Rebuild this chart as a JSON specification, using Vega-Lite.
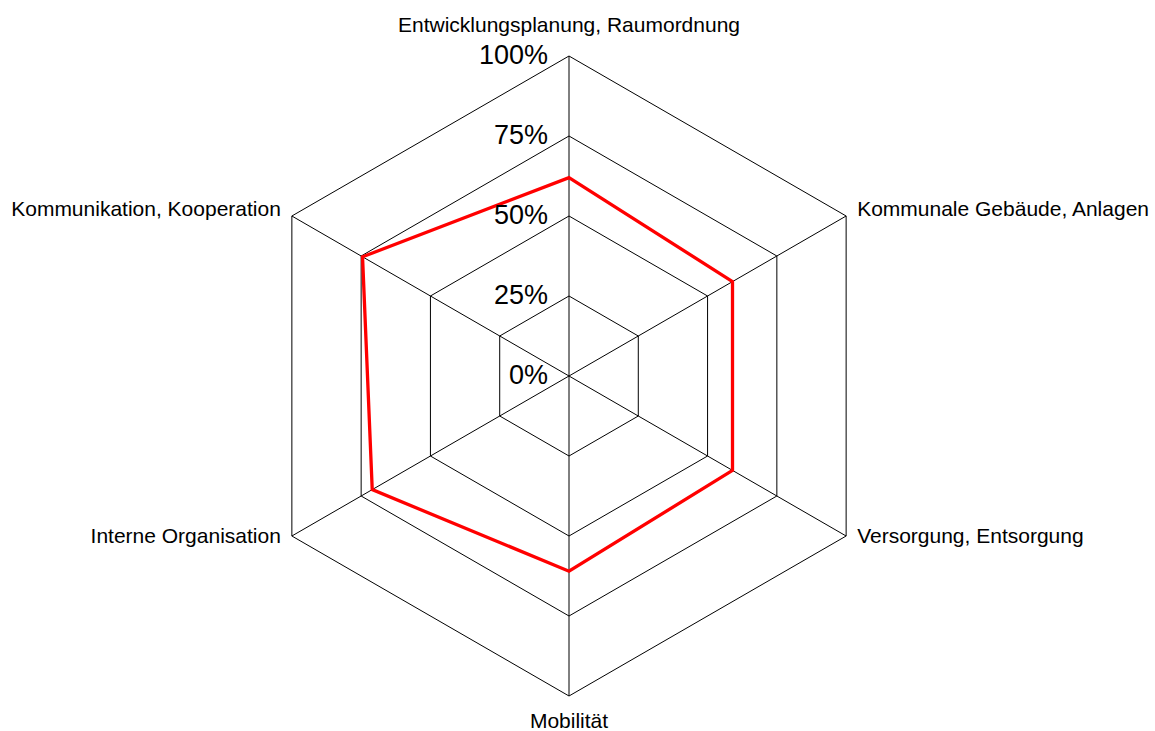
{
  "$schema": "https://vega.github.io/schema/vega-lite/v6.json",
  "width": 1155,
  "height": 731,
  "autosize": {"type": "none"},
  "padding": 0,
  "background": "white",
  "config": {"view": {"stroke": null}, "font": "Liberation Sans"},
  "datasets": {
    "axes": [
      {"i": 0, "category": "Entwicklungsplanung, Raumordnung", "value": 0.62},
      {"i": 1, "category": "Kommunale Gebäude, Anlagen", "value": 0.59},
      {"i": 2, "category": "Versorgung, Entsorgung", "value": 0.59},
      {"i": 3, "category": "Mobilität", "value": 0.61},
      {"i": 4, "category": "Interne Organisation", "value": 0.71},
      {"i": 5, "category": "Kommunikation, Kooperation", "value": 0.745}
    ],
    "grid": [
      {"level": 0.25, "k": [0, 1, 2, 3, 4, 5]},
      {"level": 0.5, "k": [0, 1, 2, 3, 4, 5]},
      {"level": 0.75, "k": [0, 1, 2, 3, 4, 5]},
      {"level": 1, "k": [0, 1, 2, 3, 4, 5]}
    ],
    "ticks": [
      {"level": 0, "label": "0%"},
      {"level": 0.25, "label": "25%"},
      {"level": 0.5, "label": "50%"},
      {"level": 0.75, "label": "75%"},
      {"level": 1, "label": "100%"}
    ]
  },
  "layer": [
    {
      "data": {"name": "grid"},
      "transform": [
        {"flatten": ["k"]},
        {"calculate": "datum.level * sin(datum.k * PI / 3)", "as": "gx"},
        {"calculate": "datum.level * cos(datum.k * PI / 3)", "as": "gy"}
      ],
      "mark": {"type": "line", "interpolate": "linear-closed", "color": "black", "strokeWidth": 1},
      "encoding": {
        "x": {"field": "gx", "type": "quantitative", "scale": {"domain": [-1.778125, 1.83125], "nice": false, "zero": false}, "axis": null},
        "y": {"field": "gy", "type": "quantitative", "scale": {"domain": [-1.109375, 1.175], "nice": false, "zero": false}, "axis": null},
        "detail": {"field": "level", "type": "nominal"},
        "order": {"field": "k", "type": "quantitative"}
      }
    },
    {
      "data": {"name": "axes"},
      "transform": [
        {"calculate": "0", "as": "cx"},
        {"calculate": "sin(datum.i * PI / 3)", "as": "ex"},
        {"calculate": "cos(datum.i * PI / 3)", "as": "ey"}
      ],
      "mark": {"type": "rule", "color": "black", "strokeWidth": 1},
      "encoding": {
        "x": {"field": "cx", "type": "quantitative"},
        "y": {"field": "cx", "type": "quantitative"},
        "x2": {"field": "ex"},
        "y2": {"field": "ey"}
      }
    },
    {
      "data": {"name": "axes"},
      "transform": [
        {"calculate": "datum.value * sin(datum.i * PI / 3)", "as": "px"},
        {"calculate": "datum.value * cos(datum.i * PI / 3)", "as": "py"}
      ],
      "mark": {"type": "line", "interpolate": "linear-closed", "color": "#FF0000", "strokeWidth": 3.3},
      "encoding": {
        "x": {"field": "px", "type": "quantitative"},
        "y": {"field": "py", "type": "quantitative"},
        "order": {"field": "i", "type": "quantitative"}
      }
    },
    {
      "data": {"name": "ticks"},
      "transform": [{"calculate": "0", "as": "cx"}],
      "mark": {"type": "text", "align": "right", "baseline": "middle", "dx": -21, "fontSize": 27, "color": "black"},
      "encoding": {
        "x": {"field": "cx", "type": "quantitative"},
        "y": {"field": "level", "type": "quantitative"},
        "text": {"field": "label"}
      }
    },
    {
      "data": {"name": "axes"},
      "transform": [
        {"filter": "datum.i == 0"},
        {"calculate": "sin(datum.i * PI / 3)", "as": "ex"},
        {"calculate": "cos(datum.i * PI / 3)", "as": "ey"}
      ],
      "mark": {"type": "text", "align": "center", "baseline": "alphabetic", "dy": -24, "fontSize": 21, "color": "black"},
      "encoding": {
        "x": {"field": "ex", "type": "quantitative"},
        "y": {"field": "ey", "type": "quantitative"},
        "text": {"field": "category"}
      }
    },
    {
      "data": {"name": "axes"},
      "transform": [
        {"filter": "datum.i == 1"},
        {"calculate": "sin(datum.i * PI / 3)", "as": "ex"},
        {"calculate": "cos(datum.i * PI / 3)", "as": "ey"}
      ],
      "mark": {"type": "text", "align": "left", "baseline": "alphabetic", "dx": 11, "dy": 0, "fontSize": 21, "color": "black"},
      "encoding": {
        "x": {"field": "ex", "type": "quantitative"},
        "y": {"field": "ey", "type": "quantitative"},
        "text": {"field": "category"}
      }
    },
    {
      "data": {"name": "axes"},
      "transform": [
        {"filter": "datum.i == 2"},
        {"calculate": "sin(datum.i * PI / 3)", "as": "ex"},
        {"calculate": "cos(datum.i * PI / 3)", "as": "ey"}
      ],
      "mark": {"type": "text", "align": "left", "baseline": "middle", "dx": 11, "dy": 1, "fontSize": 21, "color": "black"},
      "encoding": {
        "x": {"field": "ex", "type": "quantitative"},
        "y": {"field": "ey", "type": "quantitative"},
        "text": {"field": "category"}
      }
    },
    {
      "data": {"name": "axes"},
      "transform": [
        {"filter": "datum.i == 3"},
        {"calculate": "sin(datum.i * PI / 3)", "as": "ex"},
        {"calculate": "cos(datum.i * PI / 3)", "as": "ey"}
      ],
      "mark": {"type": "text", "align": "center", "baseline": "alphabetic", "dy": 32, "fontSize": 21, "color": "black"},
      "encoding": {
        "x": {"field": "ex", "type": "quantitative"},
        "y": {"field": "ey", "type": "quantitative"},
        "text": {"field": "category"}
      }
    },
    {
      "data": {"name": "axes"},
      "transform": [
        {"filter": "datum.i == 4"},
        {"calculate": "sin(datum.i * PI / 3)", "as": "ex"},
        {"calculate": "cos(datum.i * PI / 3)", "as": "ey"}
      ],
      "mark": {"type": "text", "align": "right", "baseline": "middle", "dx": -11, "dy": 1, "fontSize": 21, "color": "black"},
      "encoding": {
        "x": {"field": "ex", "type": "quantitative"},
        "y": {"field": "ey", "type": "quantitative"},
        "text": {"field": "category"}
      }
    },
    {
      "data": {"name": "axes"},
      "transform": [
        {"filter": "datum.i == 5"},
        {"calculate": "sin(datum.i * PI / 3)", "as": "ex"},
        {"calculate": "cos(datum.i * PI / 3)", "as": "ey"}
      ],
      "mark": {"type": "text", "align": "right", "baseline": "alphabetic", "dx": -11, "dy": 0, "fontSize": 21, "color": "black"},
      "encoding": {
        "x": {"field": "ex", "type": "quantitative"},
        "y": {"field": "ey", "type": "quantitative"},
        "text": {"field": "category"}
      }
    }
  ]
}
